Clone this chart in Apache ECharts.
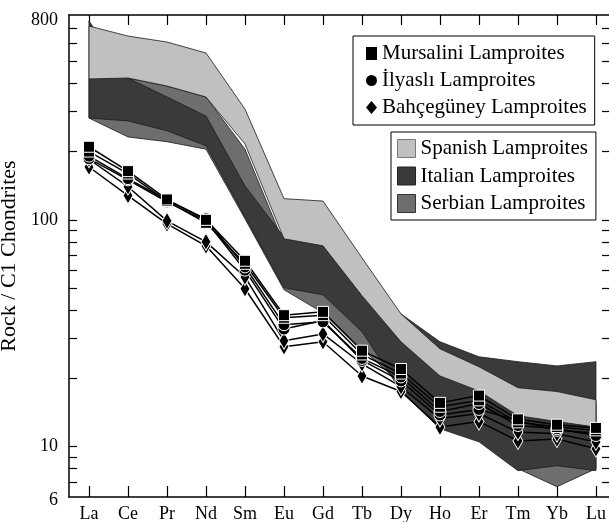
<!DOCTYPE html>
<html>
<head>
<meta charset="utf-8">
<script src="https://cdn.jsdelivr.net/npm/echarts@6/dist/echarts.min.js"></script>
<style>
  html, body { margin: 0; padding: 0; background: #fff; }
  #chart { width: 609px; height: 522px; }
</style>
</head>
<body>
<div id="chart"></div>
<script>
// REE elements (x axis)
var elements = ['La', 'Ce', 'Pr', 'Nd', 'Sm', 'Eu', 'Gd', 'Tb', 'Dy', 'Ho', 'Er', 'Tm', 'Yb', 'Lu'];

// reference fields (min / max envelopes)
var spanishUpper = [715, 646, 608, 544, 308, 124, 121, 68, 38.5, 27, 22.5, 18.2, 17.5, 16.1];
var spanishLower = [418, 422, 389, 348, 216, 82.5, 76.8, 46.3, 29.0, 20.5, 17.6, 13.7, 12.9, 12.2];
var italianUpper = [753, 422, 348, 287, 141, 84, 78.4, 57, 38.5, 29.0, 24.9, 23.7, 22.7, 23.7];
var italianLower = [281, 273, 247, 212, 103, 50.2, 46.7, 32.1, 17.6, 12.0, 10.5, 7.84, 8.25, 7.84];
var serbianUpper = [418, 422, 389, 348, 205, 78.4, 73, 45, 28.4, 22, 19.9, 16.3, 15.5, 15.5];
var serbianLower = [281, 232, 221, 205, 101, 49.2, 38.9, 27.0, 18.9, 12.6, 10.8, 8.0, 6.66, 8.0];

// samples
var mursalini1 = [210, 164, 123, 100, 66, 38, 39.3, 26.5, 22, 15.6, 16.8, 13.2, 12.5, 12.1];
var mursalini2 = [200, 160, 121, 97, 64, 37, 38, 25.5, 21, 15, 16, 12.8, 12.2, 11.8];
var ilyasli1 = [191, 152, 122, 101, 62, 34.5, 35.5, 24.5, 20.3, 14.3, 15.5, 12.4, 12.0, 11.2];
var ilyasli2 = [186, 150, 120, 99, 60, 33, 36, 24, 19.5, 13.8, 14.6, 13, 11.8, 11.5];
var bahce1 = [185, 140, 99, 80, 56, 29.3, 31.4, 23.2, 18.4, 13.3, 14.0, 11.6, 11.4, 10.5];
var bahce2 = [171, 128, 96, 76.8, 49.7, 27.6, 29, 20.5, 17.5, 12.2, 12.9, 10.6, 10.8, 9.8];

var yLabels = [6, 10, 100, 800];
var yTicks = [7, 8, 9, 10, 20, 30, 40, 50, 60, 70, 80, 90, 100, 200, 300, 400, 500, 600, 700];
var xTicks = elements.map(function (e, i) { return i; });

var font = 'Liberation Serif';

function pairs(arr) {
  return arr.map(function (v, i) { return [i, v]; });
}

function band(name, lower, upper, color) {
  return {
    name: name,
    type: 'custom',
    itemStyle: { color: color, borderColor: '#444', borderWidth: 1 },
    data: elements.map(function (e, i) { return [i, lower[i], upper[i]]; }),
    encode: { x: 0, y: [1, 2] },
    renderItem: function (params, api) {
      if (params.dataIndex !== 0) return;
      var pts = [];
      for (var i = 0; i < elements.length; i++) pts.push(api.coord([i, upper[i]]));
      for (var j = elements.length - 1; j >= 0; j--) pts.push(api.coord([j, lower[j]]));
      return {
        type: 'polygon',
        shape: { points: pts },
        style: { fill: color, stroke: '#1a1a1a', lineWidth: 0.8 }
      };
    }
  };
}

function sample(name, arr, symbol, size) {
  return {
    name: name,
    type: 'line',
    data: pairs(arr),
    symbol: symbol,
    symbolSize: size,
    lineStyle: { color: '#000', width: 1.5 },
    itemStyle: { color: '#000', borderColor: '#fff', borderWidth: 1 },
    z: 5
  };
}

var myChart = echarts.init(document.getElementById('chart'));

var labelFont = { fontFamily: font, fontSize: 18, color: '#000' };

var option = {
  animation: false,
  backgroundColor: '#fff',
  grid: { left: 69, top: 15, right: -1, bottom: 25, outerBoundsMode: 'none' },
  legend: [{
    left: 353,
    top: 36,
    orient: 'vertical',
    selectedMode: false,
    borderColor: '#000',
    borderWidth: 1,
    padding: [7, 8, 7, 13],
    itemGap: 6,
    itemWidth: 11,
    itemHeight: 13,
    itemStyle: { color: '#000', borderWidth: 0 },
    textStyle: { fontFamily: font, fontSize: 21, color: '#000', lineHeight: 21 },
    data: [
      { name: 'Mursalini Lamproites', icon: 'rect' },
      { name: 'İlyaslı Lamproites', icon: 'circle' },
      { name: 'Bahçegüney Lamproites', icon: 'diamond' }
    ]
  }, {
    left: 391,
    top: 132,
    orient: 'vertical',
    selectedMode: false,
    borderColor: '#000',
    borderWidth: 1,
    padding: [6, 8, 6, 6],
    itemGap: 6.5,
    itemWidth: 18,
    itemHeight: 18,
    textStyle: { fontFamily: font, fontSize: 21, color: '#000', lineHeight: 21 },
    data: [
      { name: 'Spanish Lamproites', icon: 'rect', itemStyle: { color: '#c0c0c0', borderColor: '#777', borderWidth: 1 } },
      { name: 'Italian Lamproites', icon: 'rect', itemStyle: { color: '#3a3a3a', borderColor: '#222', borderWidth: 1 } },
      { name: 'Serbian Lamproites', icon: 'rect', itemStyle: { color: '#6e6e6e', borderColor: '#333', borderWidth: 1 } }
    ]
  }],
  xAxis: [{
    type: 'value',
    position: 'bottom',
    min: -0.513,
    max: 13.36,
    splitLine: { show: false },
    axisLine: { onZero: false, lineStyle: { color: '#000', width: 1.5 } },
    axisTick: { inside: true, length: 11, customValues: xTicks, lineStyle: { color: '#000', width: 1.2 } },
    axisLabel: {
      customValues: xTicks,
      margin: 8,
      color: '#000',
      fontFamily: font,
      fontSize: 18,
      formatter: function (v) { return elements[Math.round(v)]; }
    }
  }, {
    type: 'value',
    position: 'top',
    min: -0.513,
    max: 13.36,
    splitLine: { show: false },
    axisLine: { onZero: false, lineStyle: { color: '#000', width: 1.5 } },
    axisTick: { inside: true, length: 10, customValues: xTicks, lineStyle: { color: '#000', width: 1.2 } },
    axisLabel: { show: false }
  }],
  yAxis: [{
    type: 'log',
    logBase: 10,
    min: 6,
    max: 800,
    name: 'Rock / C1 Chondrites',
    nameLocation: 'middle',
    nameGap: 41,
    nameTextStyle: { fontFamily: font, fontSize: 22, color: '#000' },
    splitLine: { show: false },
    axisLine: { onZero: false, lineStyle: { color: '#000', width: 1.5 } },
    axisTick: { inside: true, length: 8, customValues: yTicks, lineStyle: { color: '#000', width: 1.2 } },
    axisLabel: {
      customValues: yLabels,
      margin: 11,
      color: '#000',
      fontFamily: font,
      fontSize: 18,
      formatter: function (v) {
        if (v >= 799) return '{top|' + v + '}';
        if (v <= 6.01) return '{bot|' + v + '}';
        return '' + Math.round(v);
      },
      rich: {
        top: Object.assign({ padding: [10, 0, 0, 0] }, labelFont),
        bot: Object.assign({ padding: [6, 0, 0, 0] }, labelFont)
      }
    }
  }, {
    type: 'log',
    logBase: 10,
    min: 6,
    max: 800,
    position: 'right',
    splitLine: { show: false },
    axisLine: { onZero: false, lineStyle: { color: '#000', width: 1.5 } },
    axisTick: { inside: true, length: 8, customValues: yTicks, lineStyle: { color: '#000', width: 1.2 } },
    axisLabel: { show: false }
  }],
  series: [
    band('Serbian Lamproites', serbianLower, serbianUpper, '#6e6e6e'),
    band('Italian Lamproites', italianLower, italianUpper, '#3a3a3a'),
    band('Spanish Lamproites', spanishLower, spanishUpper, '#c0c0c0'),
    sample('Bahçegüney Lamproites', bahce2, 'diamond', [10, 17]),
    sample('Bahçegüney Lamproites', bahce1, 'diamond', [10, 17]),
    sample('İlyaslı Lamproites', ilyasli2, 'circle', 12),
    sample('İlyaslı Lamproites', ilyasli1, 'circle', 12),
    sample('Mursalini Lamproites', mursalini2, 'rect', 11),
    sample('Mursalini Lamproites', mursalini1, 'rect', 11)
  ]
};

myChart.setOption(option);
</script>
</body>
</html>
